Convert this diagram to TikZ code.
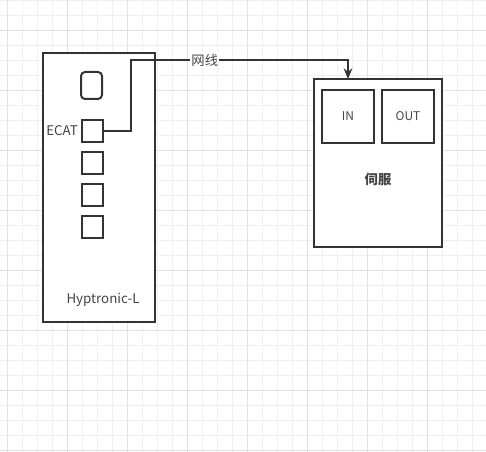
\documentclass[tikz,border=0pt]{standalone}
\usepackage{fontspec}
\setmainfont{Noto Sans CJK SC}
\usepackage{tikz}
\usetikzlibrary{arrows.meta, positioning}
\definecolor{edgegray}{RGB}{51,51,51}
\definecolor{textgray}{RGB}{68,68,68}
\definecolor{gridminor}{RGB}{240,240,240}
\definecolor{gridmajor}{RGB}{226,226,226}

\begin{document}
\begin{tikzpicture}[x=0.75pt, y=-0.75pt,
      box/.style={rectangle, draw=edgegray, line width=1.5pt, fill=white,
                  inner sep=0pt, outer sep=0pt, font=\small, text=textgray, align=center},
      slot/.style={box, minimum width=15.75pt, minimum height=16.5pt},
      port/.style={box, minimum width=39pt, minimum height=39.75pt, font=\small},
      lbl/.style={font=\normalsize, text=textgray, inner sep=1pt},
      wire/.style={draw=edgegray, line width=1.5pt, -{Stealth[length=8pt, width=6.5pt]}}
    ]
    \useasboundingbox (0,0) rectangle (486,452);
    % background grid
    \foreach \gx in {7,22,...,487} \draw[gridminor, line width=0.75pt] (\gx,0) -- (\gx,452);
    \foreach \gy in {1,16,...,452} \draw[gridminor, line width=0.75pt] (0,\gy) -- (486,\gy);
    \foreach \gx in {7,67,...,487} \draw[gridmajor, line width=0.75pt] (\gx,0) -- (\gx,452);
    \foreach \gy in {31,91,...,452} \draw[gridmajor, line width=0.75pt] (0,\gy) -- (486,\gy);

    % controller
    \node[box, minimum width=84pt, minimum height=201.75pt] (hyp) at (99,187.5) {};
    \node[box, rounded corners=3pt, minimum width=15.75pt, minimum height=20.25pt] (slot0) at (91.5,85.5) {};
    \node[slot] (ecat) at (92,131) {};
    \node[slot] (slot2) at (92,163) {};
    \node[slot] (slot3) at (92,195) {};
    \node[slot] (slot4) at (92,227) {};
    \node[lbl, left=1.5pt of ecat] (ecatlbl) {ECAT};
    \node[lbl] (hyplbl) at (103,300) {Hyptronic-L};

    % servo drive
    \node[box, minimum width=96pt, minimum height=126pt] (servo) at (378,163) {};
    \node[port] (in) at (348,116.5) {IN};
    \node[port] (out) at (408,116.5) {OUT};
    \node[lbl, font=\normalsize\bfseries] (servolbl) at (378,179) {伺服};

    \coordinate (bend) at (131,60);
    \draw[wire] (ecat.east) -| (bend) -| (in.north |- servo.north)
      node[pos=0.17, lbl, fill=white] (wirelbl) {网线};
  \end{tikzpicture}
\end{document}
